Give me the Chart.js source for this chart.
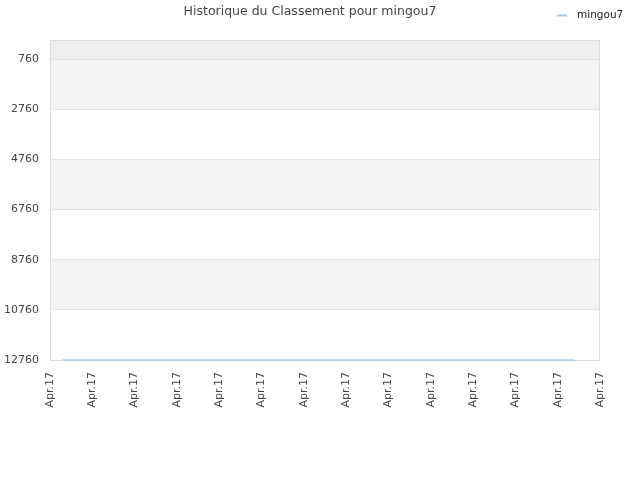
<!DOCTYPE html>
<html>
<head>
<meta charset="utf-8">
<script src="https://cdn.jsdelivr.net/npm/chart.js@4/dist/chart.umd.min.js"></script>
<style>
  html, body { margin: 0; padding: 0; background: #fff; }
  #wrap { width: 640px; height: 480px; }
</style>
</head>
<body>
<div id="wrap"><canvas id="myChart" width="640" height="480"></canvas></div>
<script>
// donnees du graphique
const playerName = 'mingou7';
const chartTitle = 'Historique du Classement pour mingou7';
const dayPos = [0.3, 1.3, 2.3, 3.3, 4.3, 5.3, 6.3, 7.3, 8.3, 9.3, 10.3, 11.3, 12.4];
const ranks = [12760, 12760, 12760, 12760, 12760, 12760, 12760, 12760, 12760, 12760, 12760, 12760, 12760];
const xTickLabels = ['Apr.17', 'Apr.17', 'Apr.17', 'Apr.17', 'Apr.17', 'Apr.17', 'Apr.17', 'Apr.17', 'Apr.17', 'Apr.17', 'Apr.17', 'Apr.17', 'Apr.17', 'Apr.17'];
const yTicks = [760, 2760, 4760, 6760, 8760, 10760, 12760];

const lineColor = '#a6c8ec';

// bandes grises alternees + bordure + titre + legende
const bandsPlugin = {
    id: 'bands',
    beforeDraw(chart) {
        const {ctx, chartArea, scales} = chart;
        const y = scales.y;
        ctx.save();
        // bande du haut (0 -> 760)
        ctx.fillStyle = '#eeeeee';
        ctx.fillRect(chartArea.left, y.getPixelForValue(0), chartArea.width, y.getPixelForValue(yTicks[0]) - y.getPixelForValue(0));
        ctx.fillStyle = '#f3f3f3';
        for (let i = 0; i < yTicks.length - 1; i += 2) {
            const top = y.getPixelForValue(yTicks[i]);
            const bot = y.getPixelForValue(yTicks[i + 1]);
            ctx.fillRect(chartArea.left, top, chartArea.width, bot - top);
        }
        ctx.restore();
    },
    beforeDatasetsDraw(chart) {
        const {ctx, chartArea} = chart;
        ctx.save();
        ctx.strokeStyle = '#dddddd';
        ctx.lineWidth = 1;
        ctx.strokeRect(chartArea.left + 0.5, chartArea.top + 0.5, chartArea.width - 1, chartArea.height);
        ctx.restore();
    },
    afterDraw(chart) {
        const {ctx} = chart;
        ctx.save();
        // titre
        ctx.fillStyle = '#444';
        ctx.font = '12.5px "DejaVu Sans"';
        ctx.textAlign = 'center';
        ctx.textBaseline = 'middle';
        ctx.fillText(chartTitle, 310, 12);
        // legende
        ctx.strokeStyle = lineColor;
        ctx.lineWidth = 2;
        ctx.beginPath();
        ctx.moveTo(557, 15.5);
        ctx.lineTo(567, 15.5);
        ctx.stroke();
        ctx.fillStyle = '#222';
        ctx.font = '10.5px "DejaVu Sans"';
        ctx.textAlign = 'left';
        ctx.fillText(chart.data.datasets[0].label, 577, 15);
        ctx.restore();
    }
};

const grafica = document.getElementById('myChart');
const myChart = new Chart(grafica, {
    type: 'line',
    data: {
        datasets: [{
            label: playerName,
            data: dayPos.map((d, i) => ({x: d, y: ranks[i]})),
            borderColor: lineColor,
            backgroundColor: lineColor,
            borderWidth: 1.5,
            pointRadius: 0,
            tension: 0,
            clip: false
        }]
    },
    options: {
        responsive: false,
        animation: false,
        devicePixelRatio: 1,
        layout: { padding: { left: 0, right: 40, top: 40, bottom: 0 } },
        plugins: {
            legend: { display: false },
            tooltip: { enabled: false },
            title: { display: false }
        },
        scales: {
            x: {
                type: 'linear',
                min: 0,
                max: 13,
                grid: { display: false },
                border: { display: false },
                afterBuildTicks: scale => {
                    scale.ticks = xTickLabels.map((t, i) => ({value: i}));
                },
                afterFit: scale => { scale.height = 120; },
                ticks: {
                    autoSkip: false,
                    minRotation: 90,
                    maxRotation: 90,
                    padding: 4,
                    color: '#444',
                    font: { family: 'DejaVu Sans', size: 11 },
                    callback: (v, i) => xTickLabels[i]
                }
            },
            y: {
                reverse: true,
                min: 0,
                max: 12760,
                border: { display: false },
                grid: { color: '#e3e3e3', drawTicks: false },
                afterBuildTicks: scale => {
                    scale.ticks = yTicks.map(v => ({value: v}));
                },
                afterFit: scale => { scale.width = 50; },
                ticks: {
                    padding: 11,
                    color: '#444',
                    font: { family: 'DejaVu Sans', size: 11 },
                    callback: v => String(v)
                }
            }
        }
    },
    plugins: [bandsPlugin]
});
</script>
</body>
</html>
